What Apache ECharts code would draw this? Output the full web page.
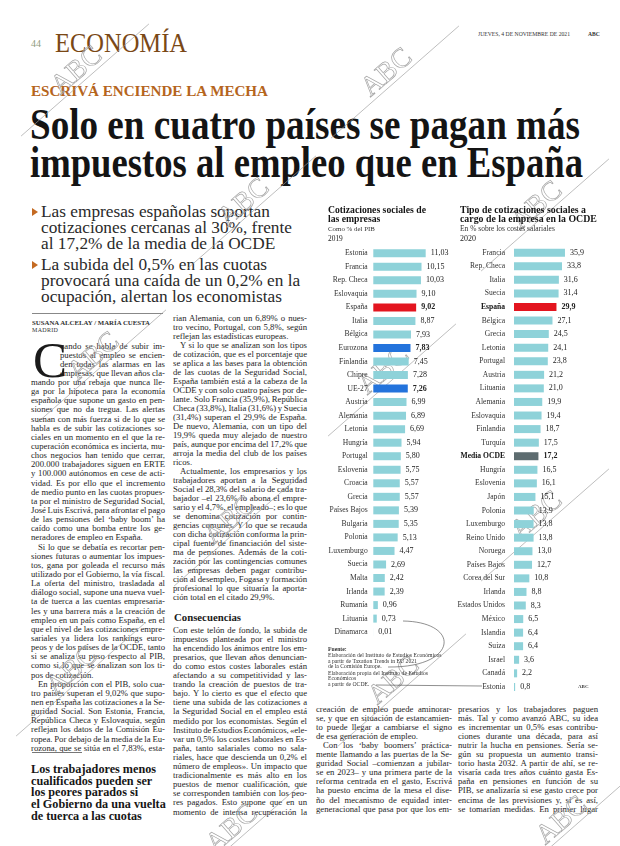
<!DOCTYPE html>
<html><head><meta charset="utf-8">
<script src="https://cdn.jsdelivr.net/npm/echarts@6/dist/echarts.min.js"></script>
<style>
html,body{margin:0;padding:0;background:#fff;}
#page{position:relative;width:620px;height:846px;overflow:hidden;background:#fff;color:#222;}
#txt{position:absolute;left:0;top:0;width:620px;height:846px;z-index:1;}
.ln{position:absolute;white-space:nowrap;transform-origin:0 50%;}
#chart{position:absolute;left:0;top:0;width:620px;height:846px;z-index:2;}
</style></head><body><div id="page"><div id="txt"></div><div id="chart"></div></div>
<script>
// ---------------- DATA ----------------
const leftCategories = ['Estonia','Francia','Rep. Checa','Eslovaquia','España','Italia','Bélgica','Eurozona','Finlandia','Chipre','UE-27','Austria','Alemania','Letonia','Hungría','Portugal','Eslovenia','Croacia','Grecia','Países Bajos','Bulgaria','Polonia','Luxemburgo','Suecia','Malta','Irlanda','Rumanía','Lituania','Dinamarca'];
const leftValues = [11.03,10.15,10.03,9.10,9.02,8.87,7.93,7.83,7.45,7.28,7.26,6.99,6.89,6.69,5.94,5.80,5.75,5.57,5.57,5.39,5.35,5.13,4.47,2.69,2.42,2.39,0.96,0.73,0.01];
const rightCategories = ['Francia','Rep. Checa','Italia','Suecia','España','Bélgica','Grecia','Letonia','Portugal','Austria','Lituania','Alemania','Eslovaquia','Finlandia','Turquía','Media OCDE','Hungría','Eslovenia','Japón','Polonia','Luxemburgo','Reino Unido','Noruega','Países Bajos','Corea del Sur','Irlanda','Estados Unidos','México','Islandia','Suiza','Israel','Canadá','Estonia'];
const rightValues = [35.9,33.8,31.6,31.4,29.9,27.1,24.5,24.1,23.8,21.2,21.0,19.9,19.4,18.7,17.5,17.2,16.5,16.1,15.1,13.9,13.8,13.8,13.0,12.7,10.8,8.8,8.3,6.5,6.4,6.4,3.6,2.2,0.8];
const leftTitle = ['Cotizaciones sociales de','las empresas'];
const leftSub = ['Como % del PIB','2019'];
const rightTitle = ['Tipo de cotizaciones sociales a','cargo de la empresa en la OCDE'];
const rightSub = ['En % sobre los costes salariales','2020'];
const sourceLines = ['Fuente:','Elaboración del Instituto de Estudios Económicos','a partir de Taxation Trends in EU 2021','de la Comisión Europe.','Elaboración propia del Instituto de Estudios','Económicos','a partir de OCDE.'];

const headline = ['Solo en cuatro países se pagan más','impuestos al empleo que en España'];
const deck1 = ['Las empresas españolas soportan','cotizaciones cercanas al 30%, frente','al 17,2% de la media de la OCDE'];
const deck2 = ['La subida del 0,5% en las cuotas','provocará una caída de un 0,2% en la','ocupación, alertan los economistas'];
const pullQuote = ['Los trabajadores menos','cualificados pueden ser','los peores parados si','el Gobierno da una vuelta','de tuerca a las cuotas'];
const col1 = ["uando se habla de subir im-","puestos al empleo se encien-","den todas las alarmas en las","empresas, que llevan años cla-","mando por una rebaja que nunca lle-","ga por la hipoteca para la economía","española que supone un gasto en pen-","siones que no da tregua. Las alertas","suenan con más fuerza si de lo que se","habla es de subir las cotizaciones so-","ciales en un momento en el que la re-","cuperación económica es incierta, mu-","chos negocios han tenido que cerrar,","200.000 trabajadores siguen en ERTE","y 100.000 autónomos en cese de acti-","vidad. Es por ello que el incremento","de medio punto en las cuotas propues-","ta por el ministro de Seguridad Social,","José Luis Escrivá, para afrontar el pago","de las pensiones del ‘baby boom’ ha","caído como una bomba entre los ge-","neradores de empleo en España.|",">Si lo que se debatía es recortar pen-","siones futuras o aumentar los impues-","tos, gana por goleada el recurso más","utilizado por el Gobierno, la vía fiscal.","La oferta del ministro, trasladada al","diálogo social, supone una nueva vuel-","ta de tuerca a las cuentas empresaria-","les y una barrera más a la creación de","empleo en un país como España, en el","que el nivel de las cotizaciones empre-","sariales ya lidera los rankings euro-","peos y de los países de la OCDE, tanto","si se analiza su peso respecto al PIB,","como si lo que se analizan son los ti-","pos de cotización.|",">En proporción con el PIB, solo cua-","tro países superan el 9,02% que supo-","nen en España las cotizaciones a la Se-","guridad Social. Son Estonia, Francia,","República Checa y Eslovaquia, según","reflejan los datos de la Comisión Eu-","ropea. Por debajo de la media de la Eu-","rozona, que se sitúa en el 7,83%, esta-"];
const col2a = ["rian Alemania, con un 6,89% o nues-","tro vecino, Portugal, con 5,8%, según","reflejan las estadísticas europeas.|",">Y si lo que se analizan son los tipos","de cotización, que es el porcentaje que","se aplica a las bases para la obtención","de las cuotas de la Seguridad Social,","España también está a la cabeza de la","OCDE y con solo cuatro países por de-","lante. Solo Francia (35,9%), República","Checa (33,8%), Italia (31,6%) y Suecia","(31,4%) superan el 29,9% de España.","De nuevo, Alemania, con un tipo del","19,9% queda muy alejado de nuestro","país, aunque por encima del 17,2% que","arroja la media del club de los países","ricos.|",">Actualmente, los empresarios y los","trabajadores aportan a la Seguridad","Social el 28,3% del salario de cada tra-","bajador –el 23,6% lo abona el empre-","sario y el 4,7%, el empleado–; es lo que","se denomina cotización por contin-","gencias comunes. Y lo que se recauda","con dicha cotización conforma la prin-","cipal fuente de financiación del siste-","ma de pensiones. Además de la coti-","zación por las contingencias comunes","las empresas deben pagar contribu-","ción al desempleo, Fogasa y formación","profesional lo que situaría la aporta-","ción total en el citado 29,9%.|"];
const subhead = 'Consecuencias';
const col2b = ["Con este telón de fondo, la subida de","impuestos planteada por el ministro","ha encendido los ánimos entre los em-","presarios, que llevan años denuncian-","do como estos costes laborales están","afectando a su competitividad y las-","trando la creación de puestos de tra-","bajo. Y lo cierto es que el efecto que","tiene una subida de las cotizaciones a","la Seguridad Social en el empleo está","medido por los economistas. Según el","Instituto de Estudios Económicos, «ele-","var un 0,5% los costes laborales en Es-","paña, tanto salariales como no sala-","riales, hace que descienda un 0,2% el","número de empleos». Un impacto que","tradicionalmente es más alto en los","puestos de menor cualificación, que","se corresponden también con los peo-","res pagados. Esto supone que en un","momento de intensa recuperación la"];
const col3 = ["creación de empleo puede aminorar-","se, y que en situación de estancamien-","to puede llegar a cambiarse el signo","de esa generación de empleo.|",">Con los ‘baby boomers’ práctica-","mente llamando a las puertas de la Se-","guridad Social –comienzan a jubilar-","se en 2023– y una primera parte de la","reforma centrada en el gasto, Escrivá","ha puesto encima de la mesa el dise-","ño del mecanismo de equidad inter-","generacional que pasa por que los em-"];
const col4 = ["presarios y los trabajadores paguen","más. Tal y como avanzó ABC, su idea","es incrementar un 0,5% esas contribu-","ciones durante una década, para así","nutrir la hucha en pensiones. Sería se-","gún su propuesta un aumento transi-","torio hasta 2032. A partir de ahí, se re-","visaría cada tres años cuánto gasta Es-","paña en pensiones en función de su","PIB, se analizaría si ese gasto crece por","encima de las previsiones y, si es así,","se tomarían medidas. En primer lugar"];

// ---------------- HTML TEXT ----------------
const SERIF = '"Liberation Serif", serif';
const T = document.getElementById('txt');
function place(text, o){
  const d = document.createElement('div'); d.className='ln';
  d.textContent = text;
  d.style.fontFamily = o.family || SERIF;
  d.style.fontSize = o.fs+'px';
  d.style.fontWeight = o.weight || 'normal';
  d.style.lineHeight = o.fs+'px';
  d.style.left = o.x+'px';
  d.style.top = (o.by - 0.8375*o.fs)+'px';
  d.style.color = o.color || '#222';
  if (o.ls) d.style.letterSpacing = o.ls+'px';
  T.appendChild(d);
  let nat = d.getBoundingClientRect().width;
  const mode = o.mode || 'left';
  if (mode==='justify'){
    const n = (text.match(/ /g)||[]).length;
    if (n>0){
      let ex = (o.w-nat)/n;
      if (ex < -1){ ex = -1; }
      d.style.wordSpacing = ex+'px';
      nat = d.getBoundingClientRect().width;
    }
    if (Math.abs(nat-o.w)>0.5) d.style.transform='scaleX('+(o.w/nat)+')';
  } else if (mode==='fit'){
    d.style.transform='scaleX('+(o.w/nat)+')';
  } else if (mode==='scale'){
    d.style.transform='scaleX('+o.scale+')';
  } else if (o.w && nat>o.w){
    d.style.transform='scaleX('+(o.w/nat)+')';
  }
  return d;
}
function rule(x1,y,x2,color,h){
  const d=document.createElement('div');
  d.style.cssText=`position:absolute;left:${x1}px;top:${y}px;width:${x2-x1}px;height:${h||0.7}px;background:${color||'#777'}`;
  T.appendChild(d);
}
function column(lines, x, w, y0, lh, fs, firstIndent){
  lines.forEach((raw,i)=>{
    let t = raw, ind = 0, last = false;
    if (t.startsWith('>')){ t=t.slice(1); ind=7; }
    if (t.endsWith('|')){ t=t.slice(0,-1); last=true; }
    if (firstIndent && i<firstIndent.n){ ind = firstIndent.dx; }
    place(t,{x:x+ind, by:y0+i*lh+2.8, fs:fs, w:w-ind, mode:last?'left':'justify', color:'#262626'});
  });
}

// header
place('44',{x:31,by:47,fs:10,color:'#8f9c7c'});
place('ECONOMÍA',{x:55,by:53,fs:27,color:'#7a4816',w:132,mode:'fit'});
place('JUEVES, 4 DE NOVIEMBRE DE 2021',{x:478,by:37,fs:5.6,w:92,mode:'fit',color:'#333'});
place('ABC',{x:588,by:37,fs:5.6,weight:'bold',color:'#333'});
place('ESCRIVÁ ENCIENDE LA MECHA',{x:31,by:97,fs:15,weight:'bold',color:'#b5651d',w:237,mode:'fit'});
place(headline[0],{x:30,by:140,fs:44,weight:'bold',color:'#141414',w:550,mode:'fit'});
place(headline[1],{x:30,by:178,fs:44,weight:'bold',color:'#141414',w:553,mode:'fit'});
// deck
function tri(x,y){const d=document.createElement('div');d.style.cssText=`position:absolute;left:${x}px;top:${y-4}px;width:0;height:0;border-left:6px solid #c46a22;border-top:4px solid transparent;border-bottom:4px solid transparent;`;T.appendChild(d);}
tri(32,212); tri(32,265);
const deckBase=[217,233,249,270,286,302];
deck1.concat(deck2).forEach((t,i)=>place(t,{x:41,by:deckBase[i],fs:17.3,color:'#2a2a2a'}));
// byline
rule(32,313,163,'#888');
place('SUSANA ALCELAY / MARÍA CUESTA',{x:32,by:325,fs:6.5,weight:'bold',w:118,mode:'fit',color:'#333'});
place('MADRID',{x:32,by:332.5,fs:6,color:'#333',ls:0.3});
// drop cap
place('C',{x:33,by:378,fs:51,color:'#1a1a1a'});
// columns
const FS = 8.7;
column(col1, 31, 134, 346, 9.14, FS, {n:4, dx:29});
column(col2a, 173, 134, 318, 9.0, FS);
place(subhead,{x:174,by:621,fs:11,weight:'bold',w:67,mode:'fit',color:'#1a1a1a'});
column(col2b, 173, 134, 630, 9.1, FS);
column(col3, 316, 136, 709, 9.1, FS);
column(col4, 458, 140, 709, 9.1, FS);
// pull quote
rule(32,752,82,'#777');
pullQuote.forEach((t,i)=>place(t,{x:31,by:773+i*11.8,fs:12.2,weight:'bold',color:'#161616'}));

// ---------------- ECHARTS ----------------
const ctx = document.createElement('canvas').getContext('2d');
function fitSize(text, weight, target){ ctx.font = weight+' 100px '+SERIF; return 100*target/ctx.measureText(text).width; }
const TEAL='#8ed2d9', RED='#e3151f', BLUE='#2373dc', GREY='#5d6c70';
function leftColor(n){ return n==='España'?RED:(n==='Eurozona'||n==='UE-27')?BLUE:TEAL; }
function rightColor(n){ return n==='España'?RED:n==='Media OCDE'?GREY:TEAL; }
const leftBold = ['España','Eurozona','UE-27'];
const rightBold = ['España','Media OCDE'];

function gt(x,y,text,size,weight,color,extra){
  return Object.assign({type:'text',x:x,y:y,silent:true,z:10,style:{text:text,font:(weight||'normal')+' '+size+'px '+SERIF,fill:color||'#222',verticalAlign:'middle',align:'left'}},extra||{});
}
const tL = fitSize(leftTitle[0],'bold',98);
const tR = fitSize(rightTitle[0],'bold',126);
const sL = fitSize(leftSub[0],'normal',47);
const sR = fitSize(rightSub[0],'normal',95);
const srcSize = fitSize(sourceLines[1],'normal',114);

const graphics = [
  gt(328,210,leftTitle[0],tL,'bold','#151515'),
  gt(328,219.5,leftTitle[1],tL,'bold','#151515'),
  gt(328,229,leftSub[0],sL,'normal','#333'),
  gt(328,239,leftSub[1],sL+0.5,'normal','#222'),
  gt(460,210,rightTitle[0],tR,'bold','#151515'),
  gt(460,219.5,rightTitle[1],tR,'bold','#151515'),
  gt(460,229,rightSub[0],sR,'normal','#333'),
  gt(460,239,rightSub[1],sR+0.5,'normal','#222'),
  gt(578,687,'ABC',5,'bold','#444')
];
const srcY=[650,656,661.5,667,673.5,679,684.5];
sourceLines.forEach((t,i)=>graphics.push(gt(328,srcY[i],t,srcSize,i===0?'bold':'normal','#333')));
graphics.push({type:'bezierCurve',silent:true,z:10,shape:{x1:403,y1:621,cpx1:462,cpy1:622,cpx2:458,cpy2:668,x2:388,y2:667},style:{stroke:'#444',lineWidth:0.6,fill:null}});
graphics.push({type:'line',silent:true,z:10,shape:{x1:376,y1:685,x2:482,y2:686},style:{stroke:'#444',lineWidth:0.6}});
// watermarks
const wmPos=[[85,80],[395,82],[252,212],[545,215],[102,366],[392,380],[238,530],[545,525],[80,680],[402,690],[240,838],[570,830]];
wmPos.forEach(p=>{
  graphics.push({type:'group',x:p[0],y:p[1],rotation:0.72,silent:true,z:50,children:[
    {type:'line',shape:{x1:-85,y1:0,x2:85,y2:0},style:{stroke:'#9a9a9a',lineWidth:0.6}},
    {type:'text',x:0,y:2,style:{text:'ABC',font:'28px '+SERIF,fill:'rgba(255,255,255,0)',stroke:'#a5a5a5',lineWidth:0.7,align:'center',verticalAlign:'bottom'}}
  ]});
});

const chart = echarts.init(document.getElementById('chart'),null,{renderer:'canvas'});
const catLabel = (margin)=>({interval:0,margin:margin,fontFamily:SERIF,fontSize:7.6,color:'#333',
  rich:{b:{fontFamily:SERIF,fontSize:7.6,fontWeight:'bold',color:'#111'}}});
chart.setOption({
  animation:false,
  backgroundColor:'transparent',
  grid:[
    {left:373.3,top:246.5,width:66.5,height:392.4,containLabel:false,outerBoundsMode:'none'},
    {left:514,top:245.9,width:56.8,height:447.8,containLabel:false,outerBoundsMode:'none'}
  ],
  xAxis:[
    {gridIndex:0,type:'value',min:0,max:14,show:false},
    {gridIndex:1,type:'value',min:0,max:40,show:false}
  ],
  yAxis:[
    {gridIndex:0,type:'category',inverse:true,data:leftCategories,axisLine:{show:false},axisTick:{show:false},splitLine:{show:false},
      axisLabel:catLabel(5.6)},
    {gridIndex:1,type:'category',inverse:true,data:rightCategories,axisLine:{show:false},axisTick:{show:false},splitLine:{show:false},
      axisLabel:Object.assign(catLabel(9),{formatter:v=>rightBold.includes(v)?'{b|'+v+'}':v})}
  ],
  series:[
    {type:'bar',xAxisIndex:0,yAxisIndex:0,barWidth:8,
      data:leftValues.map((v,i)=>({value:v,itemStyle:{color:leftColor(leftCategories[i])},
        label:{fontWeight:leftBold.includes(leftCategories[i])?'bold':'normal'}})),
      label:{show:true,position:'right',distance:5,fontFamily:SERIF,fontSize:8,color:'#222',
        formatter:p=>p.value.toFixed(2).replace('.',',')}},
    {type:'bar',xAxisIndex:1,yAxisIndex:1,barWidth:8,
      data:rightValues.map((v,i)=>({value:v,itemStyle:{color:rightColor(rightCategories[i])},
        label:{fontWeight:rightBold.includes(rightCategories[i])?'bold':'normal'}})),
      label:{show:true,position:'right',distance:5,fontFamily:SERIF,fontSize:8,color:'#222',
        formatter:p=>p.value.toFixed(1).replace('.',',')}}
  ],
  graphic:graphics
});
</script></body></html>
